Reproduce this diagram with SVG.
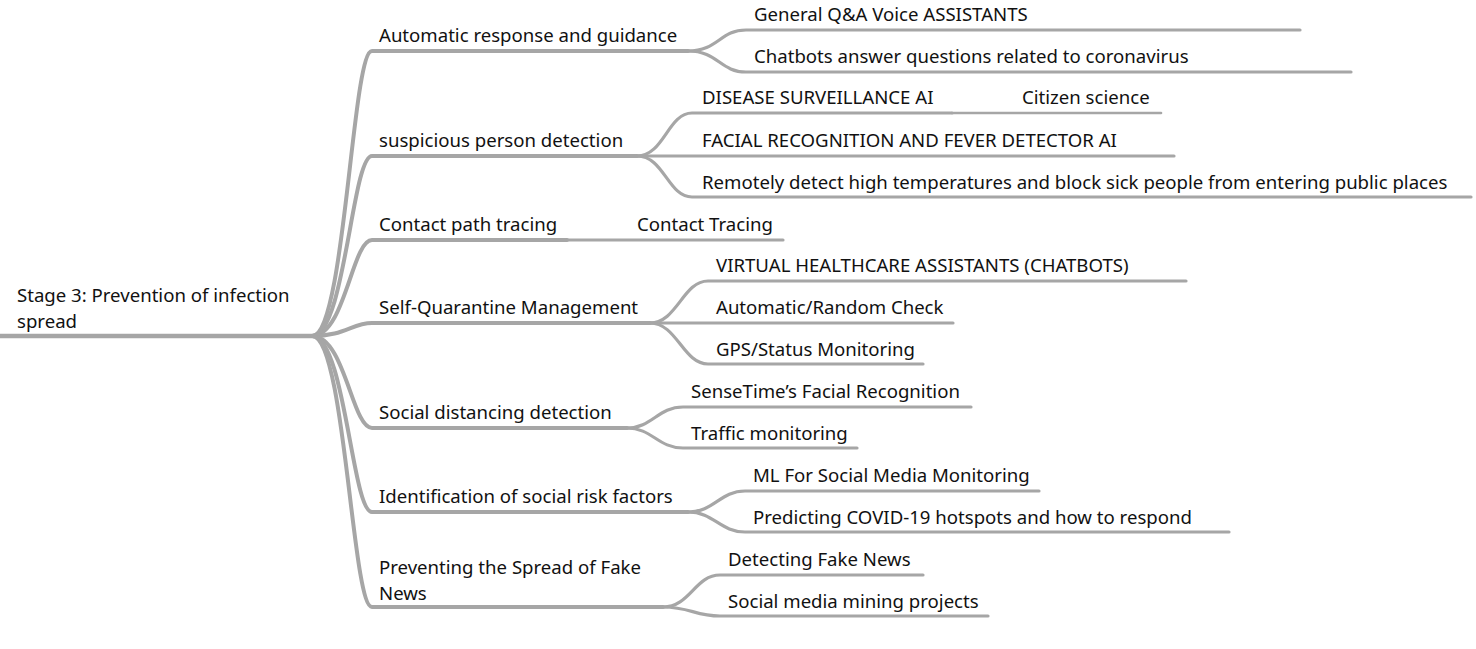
<svg xmlns="http://www.w3.org/2000/svg" width="1476" height="649" viewBox="0 0 1476 649">
<style>
text{font-family:"Noto Sans","Liberation Sans",sans-serif;font-size:18.6px;fill:#111}
.l0,.l1,.l2,.l3{fill:none;stroke:#a6a6a6;stroke-linecap:round}
.l0{stroke-width:4.5}
.l1{stroke-width:4}
.l2{stroke-width:3.2}
.l3{stroke-width:2.6}
</style>
<rect width="1476" height="649" fill="#fff"/>
<g id="connectors">
<path class="l0" d="M-2,336 L312,336"/>
<path class="l1" d="M312,336 C345,336 352,51 372,51 L688,51"/>
<path class="l1" d="M312,336 C345,336 352,156 372,156 L637,156"/>
<path class="l1" d="M312,336 C345,336 352,240 372,240 L567,240"/>
<path class="l1" d="M312,336 C345,336 352,323 372,323 L650,323"/>
<path class="l1" d="M312,336 C345,336 352,428 372,428 L627,428"/>
<path class="l1" d="M312,336 C345,336 352,512 372,512 L688,512"/>
<path class="l1" d="M312,336 C345,336 352,607 372,607 L663,607"/>
<path class="l2" d="M688,51 C718,51 720,30 746,30 L1300,30"/>
<path class="l2" d="M688,51 C718,51 720,72 746,72 L1351,72"/>
<path class="l2" d="M637,156 C664,156 668,113 692,113 L952,113"/>
<path class="l2" d="M637,156 L1174,156"/>
<path class="l2" d="M637,156 C664,156 668,197 692,197 L1471,197"/>
<path class="l2" d="M567,240 L783,240"/>
<path class="l3" d="M952,113 L1161,113"/>
<path class="l2" d="M650,323 C677,323 683,281 708,281 L1186,281"/>
<path class="l2" d="M650,323 L953,323"/>
<path class="l2" d="M650,323 C677,323 683,364 708,364 L923,364"/>
<path class="l2" d="M627,428 C652,428 658,407 683,407 L971,407"/>
<path class="l2" d="M627,428 C652,428 658,448 683,448 L857,448"/>
<path class="l2" d="M688,512 C714,512 720,491 745,491 L1039,491"/>
<path class="l2" d="M688,512 C714,512 720,532 745,532 L1229,532"/>
<path class="l2" d="M663,607 C690,607 695,575 720,575 L923,575"/>
<path class="l2" d="M663,607 C690,607 695,616 720,616 L988,616"/>
</g>
<g id="root"><text x="17" y="302">Stage 3: Prevention of infection</text><text x="17" y="328">spread</text></g>
<g id="n1"><text x="379" y="42">Automatic response and guidance</text></g>
<g id="n1a"><text x="754" y="21">General Q&amp;A Voice ASSISTANTS</text></g>
<g id="n1b"><text x="754" y="63">Chatbots answer questions related to coronavirus</text></g>
<g id="n2"><text x="379" y="147">suspicious person detection</text></g>
<g id="n2a"><text x="702" y="104">DISEASE SURVEILLANCE AI</text></g>
<g id="n2a1"><text x="1022" y="104">Citizen science</text></g>
<g id="n2b"><text x="702" y="147">FACIAL RECOGNITION AND FEVER DETECTOR AI</text></g>
<g id="n2c"><text x="702" y="189">Remotely detect high temperatures and block sick people from entering public places</text></g>
<g id="n3"><text x="379" y="231">Contact path tracing</text></g>
<g id="n3a"><text x="637" y="231">Contact Tracing</text></g>
<g id="n4"><text x="379" y="314">Self-Quarantine Management</text></g>
<g id="n4a"><text x="716" y="272">VIRTUAL HEALTHCARE ASSISTANTS (CHATBOTS)</text></g>
<g id="n4b"><text x="716" y="314">Automatic/Random Check</text></g>
<g id="n4c"><text x="716" y="356">GPS/Status Monitoring</text></g>
<g id="n5"><text x="379" y="419">Social distancing detection</text></g>
<g id="n5a"><text x="691" y="398">SenseTime’s Facial Recognition</text></g>
<g id="n5b"><text x="691" y="440">Traffic monitoring</text></g>
<g id="n6"><text x="379" y="503">Identification of social risk factors</text></g>
<g id="n6a"><text x="753" y="482">ML For Social Media Monitoring</text></g>
<g id="n6b"><text x="753" y="524">Predicting COVID-19 hotspots and how to respond</text></g>
<g id="n7"><text x="379" y="574">Preventing the Spread of Fake</text><text x="379" y="600">News</text></g>
<g id="n7a"><text x="728" y="566">Detecting Fake News</text></g>
<g id="n7b"><text x="728" y="608">Social media mining projects</text></g>
</svg>
